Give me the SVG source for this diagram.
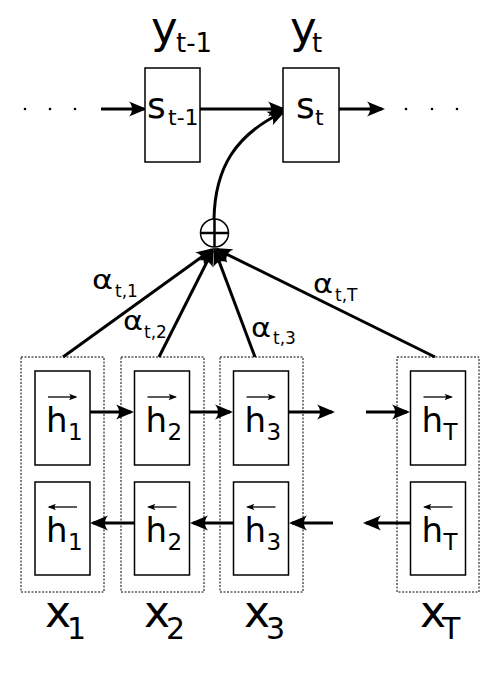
<svg xmlns="http://www.w3.org/2000/svg" width="504" height="676" viewBox="0 0 504 676">
<style>
.box{fill:#fff;stroke:#000;stroke-width:1.5}
.dot{fill:none;stroke:#000;stroke-width:1;stroke-dasharray:2 1.5}
.arr{fill:none;stroke:#000;stroke-width:3;marker-end:url(#ah)}
.thin{fill:none;stroke:#000;stroke-width:1.3;marker-end:url(#sm)}
text{font-family:"DejaVu Sans","Liberation Sans",sans-serif;fill:#000}
.y{font-size:45px;letter-spacing:-2px}.yt{letter-spacing:-5px}.ys{font-size:26px}
.s{font-size:36px}.ss{font-size:22px}
.h{font-size:34px}.hs{font-size:23px}
.x{font-size:44px;letter-spacing:-4.5px}.xs{font-size:30px}
.a{font-size:27px}.as{font-size:17px}
</style>
<defs>
<marker id="ah" viewBox="-20 -9 24 18" refX="0" refY="0" markerWidth="24" markerHeight="18" markerUnits="userSpaceOnUse" orient="auto">
<path d="M3,0 L-15,-7.5 C-11,-3 -11,3 -15,7.5 Z" fill="#000"/>
</marker>
<marker id="sm" viewBox="-10 -5 12 10" refX="0" refY="0" markerWidth="12" markerHeight="10" markerUnits="userSpaceOnUse" orient="auto">
<path d="M1.5,0 L-7,-3.2 C-5,-1.2 -5,1.2 -7,3.2 Z" fill="#000"/>
</marker>
</defs>

<g id="connectors">
<line class="arr" x1="101" y1="109" x2="144" y2="109"/>
<line class="arr" x1="200" y1="109" x2="283" y2="109"/>
<line class="arr" x1="339" y1="109" x2="382" y2="109"/>
<path class="arr" d="M214,219 C215,168 235,135 283,112"/>
<line class="arr" x1="63" y1="357" x2="211.6" y2="249.8"/>
<line class="arr" x1="159" y1="357" x2="212.6" y2="250.7"/>
<line class="arr" x1="255" y1="357" x2="215.1" y2="250.8"/>
<line class="arr" x1="435" y1="357" x2="216.7" y2="249.3"/>
<line class="arr" x1="90" y1="412" x2="131" y2="412"/>
<line class="arr" x1="190" y1="412" x2="230" y2="412"/>
<line class="arr" x1="289" y1="412" x2="332" y2="412"/>
<line class="arr" x1="366" y1="412" x2="407" y2="412"/>
<line class="arr" x1="134" y1="523" x2="93" y2="523"/>
<line class="arr" x1="233" y1="523" x2="193" y2="523"/>
<line class="arr" x1="333" y1="523" x2="292" y2="523"/>
<line class="arr" x1="410" y1="523" x2="366" y2="523"/>
</g>

<g id="dots-left">
<circle cx="25" cy="109" r="1.3"/><circle cx="50" cy="109" r="1.3"/><circle cx="75" cy="109" r="1.3"/>
</g>
<g id="dots-right">
<circle cx="406" cy="109" r="1.3"/><circle cx="432" cy="109" r="1.3"/><circle cx="457" cy="109" r="1.3"/>
</g>

<g id="s-prev">
<rect class="box" x="145" y="68" width="55" height="94"/>
<text><tspan class="s" x="147" y="118">s</tspan><tspan class="ss" x="168" y="125">t-1</tspan></text>
<text><tspan class="y" x="151" y="43">y</tspan><tspan class="ys" x="176" y="52">t-1</tspan></text>
</g>
<g id="s-t">
<rect class="box" x="283" y="68" width="56" height="94"/>
<text><tspan class="s" x="296" y="118">s</tspan><tspan class="ss" x="315" y="125">t</tspan></text>
<text><tspan class="y yt" x="290" y="43">y</tspan><tspan class="ys" x="312" y="52">t</tspan></text>
</g>

<g id="sum">
<circle cx="214.5" cy="233" r="14" fill="#fff" stroke="#000" stroke-width="1.5"/>
<line x1="200.5" y1="233" x2="228.5" y2="233" stroke="#000" stroke-width="2.5"/>
<line x1="214.5" y1="219" x2="214.5" y2="247" stroke="#000" stroke-width="2.5"/>
</g>

<g id="weights">
<text><tspan class="a" x="92" y="289" textLength="21" lengthAdjust="spacingAndGlyphs">α</tspan><tspan class="as" x="115" y="297">t,1</tspan></text>
<text><tspan class="a" x="123" y="330" textLength="20" lengthAdjust="spacingAndGlyphs">α</tspan><tspan class="as" x="144" y="338">t,2</tspan></text>
<text><tspan class="a" x="251" y="337" textLength="20" lengthAdjust="spacingAndGlyphs">α</tspan><tspan class="as" x="273" y="344">t,3</tspan></text>
<text><tspan class="a" x="313" y="293" textLength="20" lengthAdjust="spacingAndGlyphs">α</tspan><tspan class="as" x="335" y="301">t,T</tspan></text>
</g>

<g id="col-1">
<rect class="dot" x="21" y="357" width="83" height="235"/>
<rect class="box" x="35" y="371" width="55" height="94"/>
<rect class="box" x="35" y="482" width="55" height="93"/>
<line class="thin" x1="48" y1="397" x2="76" y2="397"/>
<text><tspan class="h" x="46" y="432">h</tspan><tspan class="hs" x="68" y="440">1</tspan></text>
<line class="thin" x1="77" y1="507" x2="49" y2="507"/>
<text><tspan class="h" x="46" y="542">h</tspan><tspan class="hs" x="68" y="550">1</tspan></text>
<text><tspan class="x" x="45" y="627">x</tspan><tspan class="xs" x="67" y="639">1</tspan></text>
</g>
<g id="col-2">
<rect class="dot" x="121" y="357" width="83" height="235"/>
<rect class="box" x="134.5" y="371" width="55" height="94"/>
<rect class="box" x="134.5" y="482" width="55" height="93"/>
<line class="thin" x1="147.5" y1="397" x2="175.5" y2="397"/>
<text><tspan class="h" x="145.5" y="432">h</tspan><tspan class="hs" x="167.5" y="440">2</tspan></text>
<line class="thin" x1="176.5" y1="507" x2="148.5" y2="507"/>
<text><tspan class="h" x="145.5" y="542">h</tspan><tspan class="hs" x="167.5" y="550">2</tspan></text>
<text><tspan class="x" x="144" y="627">x</tspan><tspan class="xs" x="166" y="639">2</tspan></text>
</g>
<g id="col-3">
<rect class="dot" x="220" y="357" width="83" height="235"/>
<rect class="box" x="233.5" y="371" width="55" height="94"/>
<rect class="box" x="233.5" y="482" width="55" height="93"/>
<line class="thin" x1="246.5" y1="397" x2="274.5" y2="397"/>
<text><tspan class="h" x="244.5" y="432">h</tspan><tspan class="hs" x="266.5" y="440">3</tspan></text>
<line class="thin" x1="275.5" y1="507" x2="247.5" y2="507"/>
<text><tspan class="h" x="244.5" y="542">h</tspan><tspan class="hs" x="266.5" y="550">3</tspan></text>
<text><tspan class="x" x="244" y="627">x</tspan><tspan class="xs" x="266" y="639">3</tspan></text>
</g>
<g id="col-T">
<rect class="dot" x="397" y="357" width="82" height="235"/>
<rect class="box" x="410.5" y="371" width="55" height="94"/>
<rect class="box" x="410.5" y="482" width="55" height="93"/>
<line class="thin" x1="423.5" y1="397" x2="451.5" y2="397"/>
<text><tspan class="h" x="421.5" y="432">h</tspan><tspan class="hs" x="443.5" y="440">T</tspan></text>
<line class="thin" x1="452.5" y1="507" x2="424.5" y2="507"/>
<text><tspan class="h" x="421.5" y="542">h</tspan><tspan class="hs" x="443.5" y="550">T</tspan></text>
<text><tspan class="x" x="420" y="627">x</tspan><tspan class="xs" x="442" y="639">T</tspan></text>
</g>
</svg>
